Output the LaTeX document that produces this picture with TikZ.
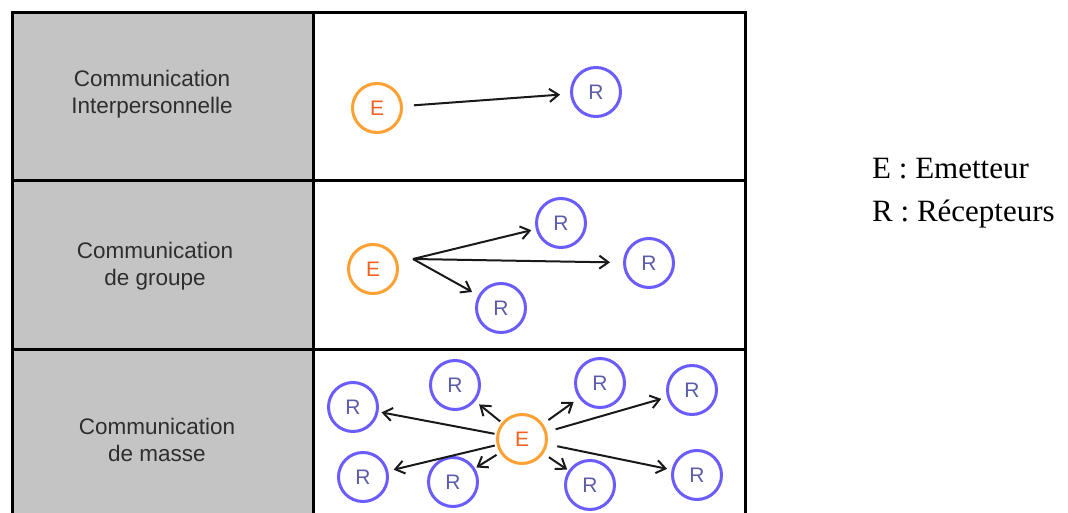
\documentclass[tikz,border=0pt]{standalone}
\usepackage{fontspec}
\setmainfont{Liberation Serif}
\newfontfamily\arialf{Liberation Sans}
\usetikzlibrary{arrows.meta}
\definecolor{cellgray}{HTML}{C4C4C4}
\definecolor{eorange}{HTML}{FFA033}
\definecolor{etext}{HTML}{F0621E}
\definecolor{rblue}{HTML}{6A5CFF}
\definecolor{rtext}{HTML}{5C5CA8}
\definecolor{labelgray}{HTML}{2E2E2E}
\begin{document}
\begin{tikzpicture}[x=1pt,y=-1pt,
  emit/.style={circle, draw=eorange, line width=3, minimum size=49, inner sep=0, text=etext, font=\arialf\fontsize{21}{21}\selectfont},
  recv/.style={circle, draw=rblue, line width=3, minimum size=49, inner sep=0, text=rtext, font=\arialf\fontsize{21}{21}\selectfont},
  conn/.style={draw=black!90, line width=2, -{Straight Barb[length=9,width=13]}},
  rowlabel/.style={align=center, text=labelgray, font=\arialf\fontsize{22.5}{27}\selectfont},
  legendtxt/.style={anchor=base west, inner sep=0, font=\fontsize{31}{31}\selectfont},
  grid/.style={draw=black, line width=3}]
\useasboundingbox (0,0) rectangle (1068,513);
% table
\fill[cellgray] (12,13) rectangle (313,513);
\draw[grid] (12,513) -- (12,13) -- (745,13) -- (745,513);
\draw[grid] (313,13) -- (313,513);
\draw[grid] (12,181) -- (745,181);
\draw[grid] (12,349) -- (745,349);
% row labels
\node[rowlabel] (l1) at (152,94) {Communication\\Interpersonnelle};
\node[rowlabel] (l2) at (155,266) {Communication\\de groupe};
\node[rowlabel] (l3) at (157,440) {Communication\\de masse};
% row 1
\node[emit] (e1) at (377,108) {E};
\node[recv] (r1) at (596,92) {R};
\draw[conn, shorten <=11, shorten >=10] (e1) -- (r1);
% row 2
\node[emit] (e2) at (373,269) {E};
\node[recv] (r2a) at (561,223) {R};
\node[recv] (r2b) at (649,263) {R};
\node[recv] (r2c) at (501,308) {R};
\coordinate (s2) at (413,259);
\draw[conn, shorten >=4.5] (s2) -- (r2a);
\draw[conn, shorten >=13] (s2) -- (r2b);
\draw[conn, shorten >=7] (s2) -- (r2c);
% row 3
\node[emit] (e3) at (522,439) {E};
\node[recv] (m1) at (353,407) {R};
\node[recv] (m2) at (455,385) {R};
\node[recv] (m3) at (600,383) {R};
\node[recv] (m4) at (692,390) {R};
\node[recv] (m5) at (363,477) {R};
\node[recv] (m6) at (453,482) {R};
\node[recv] (m7) at (590,485) {R};
\node[recv] (m8) at (697,475) {R};
\draw[conn, shorten <=2, shorten >=3] (e3) -- (m1);
\draw[conn, shorten <=2, shorten >=5] (e3) -- (m2);
\draw[conn, shorten <=6.5, shorten >=6.5] (e3) -- (m3);
\draw[conn, shorten <=9, shorten >=6] (e3) -- (m4);
\draw[conn, shorten <=2, shorten >=5.5] (e3) -- (m5);
\draw[conn, shorten <=4, shorten >=1.5] (e3) -- (m6);
\draw[conn, shorten <=6.5, shorten >=1.5] (e3) -- (m7);
\draw[conn, shorten <=10, shorten >=4.5] (e3) -- (m8);
% legend
\node[legendtxt] (le) at (872,179) {E : Emetteur};
\node[legendtxt] (lr) at (872,222) {R : Récepteurs};
\end{tikzpicture}
\end{document}
